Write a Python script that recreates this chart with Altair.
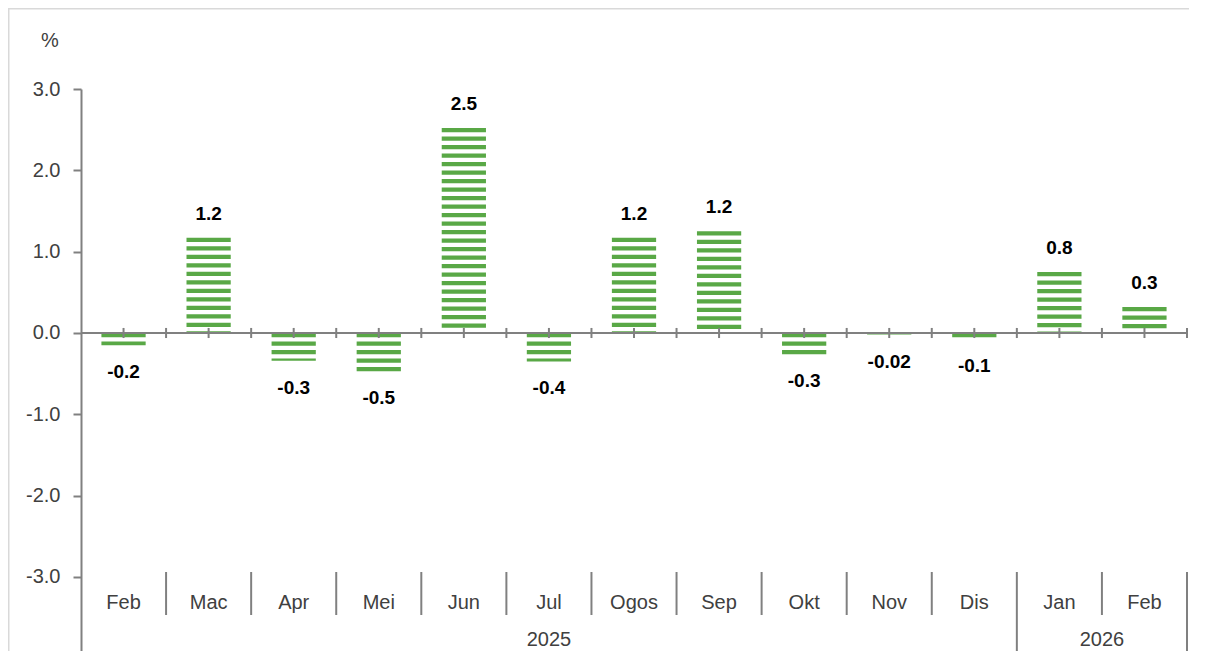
import altair as alt
import pandas as pd

# ---- data ----
months = ["Feb", "Mac", "Apr", "Mei", "Jun", "Jul", "Ogos", "Sep", "Okt", "Nov", "Dis", "Jan", "Feb"]
years = ["2025"] * 11 + ["2026"] * 2
values = [-0.15, 1.17, -0.34, -0.47, 2.52, -0.35, 1.17, 1.25, -0.26, -0.02, -0.07, 0.75, 0.32]
labels = ["-0.2", "1.2", "-0.3", "-0.5", "2.5", "-0.4", "1.2", "1.2", "-0.3", "-0.02", "-0.1", "0.8", "0.3"]
y_ticks = [-3, -2, -1, 0, 1, 2, 3]

GREEN = "#59a846"
GRAY = "#808080"
TXT = "#404040"
FONT = "Liberation Sans"
BOLDFONT = "Liberation Sans Narrow, Arial Narrow, Liberation Sans"

n = len(months)
df = pd.DataFrame({"idx": range(n), "month": months, "year": years,
                   "value": values, "label": labels})
df["xc"] = df["idx"] + 0.5

# striped bar pattern (pattern anchored at bar top)
PITCH, THICK, HALF = 0.1045, 0.052, 0.26
rows = []
for i, v in enumerate(values):
    top, bot = max(v, 0.0), min(v, 0.0)
    k = 0
    while top - k * PITCH > bot + 1e-9:
        y1 = top - k * PITCH
        y2 = max(y1 - THICK, bot)
        rows.append({"x1": i + 0.5 - HALF, "x2": i + 0.5 + HALF, "y1": y1, "y2": y2})
        k += 1
stripes = pd.DataFrame(rows)

# separators between categories / year groups
year_starts = [i for i in range(1, n) if years[i] != years[i - 1]] + [n]
sep = pd.DataFrame({"b": list(range(1, n + 1))})
sep["long"] = sep["b"].isin(year_starts)

grp = df.groupby("year")["idx"].agg(["min", "max"]).reset_index()
grp["mid"] = (grp["min"] + grp["max"] + 1) / 2

halfs = pd.DataFrame({"h": [k * 0.5 for k in range(1, 2 * n + 1)]})

W, H = 1106, 562
xs = alt.Scale(domain=[0, n], nice=False, zero=False)
ys = alt.Scale(domain=[-3.91, 3.0], nice=False, zero=False)
yaxis = alt.Axis(values=y_ticks, title=None, grid=False,
                 labelExpr="(datum.value < 0 ? '-' : '') + format(abs(datum.value), '.1f')",
                 labelFont=FONT, labelFontSize=20, labelColor=TXT, labelPadding=13,
                 tickSize=8, tickWidth=2, tickColor=GRAY,
                 domainColor=GRAY, domainWidth=2)

frame = alt.Chart(pd.DataFrame({"a": [0]})).mark_rect(
    fill=None, stroke="#d9d9d9", strokeWidth=2).encode(
    x=alt.value(-72.5), x2=alt.value(1300), y=alt.value(-80.5), y2=alt.value(700))

pct = alt.Chart(pd.DataFrame({"t": ["%"]})).mark_text(
    font=FONT, fontSize=20, color=TXT, baseline="middle", align="center").encode(
    x=alt.value(-31), y=alt.value(-48), text="t:N")

bars = alt.Chart(stripes).mark_rect(color=GREEN).encode(
    x=alt.X("x1:Q", scale=xs, axis=None), x2="x2:Q",
    y=alt.Y("y1:Q", scale=ys, axis=yaxis), y2="y2:Q")

zero = alt.Chart(pd.DataFrame({"a": [0]})).mark_rule(color=GRAY, strokeWidth=2).encode(
    x=alt.value(0), x2=alt.value(W), y=alt.Y(datum=0, scale=ys, axis=yaxis))

zticks = alt.Chart(halfs).mark_rule(color=GRAY, strokeWidth=2).encode(
    x=alt.X("h:Q", scale=xs, axis=None),
    y=alt.Y(datum=0.062, scale=ys, axis=yaxis), y2=alt.datum(-0.062))

pos = alt.Chart(df).transform_filter("datum.value >= 0").mark_text(
    font=BOLDFONT, fontWeight="bold", fontSize=19, color="black", dy=-24, baseline="middle").encode(
    x=alt.X("xc:Q", scale=xs, axis=None), y=alt.Y("value:Q", scale=ys, axis=yaxis), text="label:N")

neg = alt.Chart(df).transform_filter("datum.value < 0").mark_text(
    font=BOLDFONT, fontWeight="bold", fontSize=19, color="black", dy=27, baseline="middle").encode(
    x=alt.X("xc:Q", scale=xs, axis=None), y=alt.Y("value:Q", scale=ys, axis=yaxis), text="label:N")

mlab = alt.Chart(df).mark_text(font=FONT, fontSize=20, color=TXT, baseline="middle").encode(
    x=alt.X("xc:Q", scale=xs, axis=None), y=alt.value(514), text="month:N")

ylab = alt.Chart(grp).mark_text(font=FONT, fontSize=20, color=TXT, baseline="middle").encode(
    x=alt.X("mid:Q", scale=xs, axis=None), y=alt.value(551), text="year:N")

sep_short = alt.Chart(sep).transform_filter("!datum.long").mark_rule(color=GRAY, strokeWidth=2).encode(
    x=alt.X("b:Q", scale=xs, axis=None), y=alt.value(483), y2=alt.value(526))

sep_long = alt.Chart(sep).transform_filter("datum.long").mark_rule(color=GRAY, strokeWidth=2).encode(
    x=alt.X("b:Q", scale=xs, axis=None), y=alt.value(483), y2=alt.value(H))

chart = alt.layer(frame, pct, bars, zero, zticks, pos, neg, mlab, ylab, sep_short, sep_long).properties(
    width=W, height=H,
    autosize=alt.AutoSizeParams(type="none"),
    padding={"left": 73, "top": 81, "right": 2, "bottom": 0},
).configure_view(stroke=None)

chart.save("out.html", embed_options={"renderer": "svg", "actions": False})
